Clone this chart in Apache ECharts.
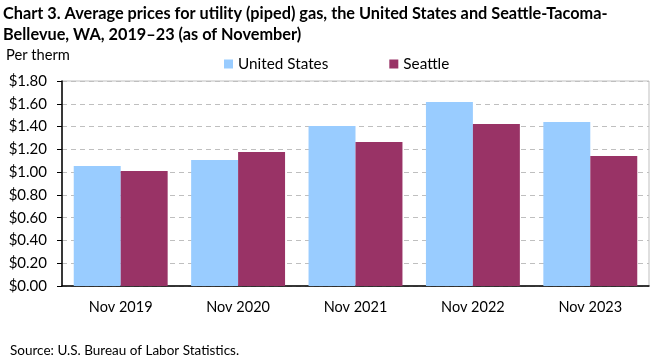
<!DOCTYPE html>
<html>
<head>
<meta charset="utf-8">
<script src="https://cdn.jsdelivr.net/npm/echarts@6/dist/echarts.min.js"></script>
<style>html,body{margin:0;padding:0;background:#fff}#c{width:661px;height:361px}</style>
</head>
<body>
<div id="c"></div>
<script>
const categories = ['Nov 2019', 'Nov 2020', 'Nov 2021', 'Nov 2022', 'Nov 2023'];
const usValues = [1.054, 1.106, 1.405, 1.615, 1.440];
const seattleValues = [1.010, 1.177, 1.264, 1.422, 1.141];
const seriesNames = ['United States', 'Seattle'];

const FONT = 'Lato';
const chart = echarts.init(document.getElementById('c'), null, {renderer: 'canvas'});
chart.setOption({
  animation: false,
  backgroundColor: '#fff',
  title: [{
    text: 'Chart 3. Average prices for utility (piped) gas, the United States and Seattle-Tacoma-\nBellevue, WA, 2019\u201323 (as of November)',
    left: 3, top: 3, padding: 0,
    textStyle: {fontFamily: FONT, fontSize: 16.3, fontWeight: 'bold', color: '#000', lineHeight: 21}
  }, {
    text: 'Per therm', left: 6, top: 46, padding: 0,
    textStyle: {fontFamily: FONT, fontSize: 14.7, fontWeight: 'normal', color: '#000', lineHeight: 18}
  }, {
    text: 'Source: U.S. Bureau of Labor Statistics.', left: 10, top: 343, padding: 0,
    textStyle: {fontFamily: FONT, fontSize: 13.5, fontWeight: 'normal', color: '#000', lineHeight: 16}
  }],
  legend: {
    data: seriesNames, left: 224, top: 55, padding: 0, itemWidth: 9, itemHeight: 9, itemGap: 61,
    icon: 'rect',
    textStyle: {fontFamily: FONT, fontSize: 15.3, color: '#000', lineHeight: 18}
  },
  grid: {left: 62, right: 12, top: 81, bottom: 75, show: true, borderColor: '#bfbfbf', borderWidth: 1, containLabel: false},
  xAxis: {
    type: 'category', data: categories,
    axisLine: {lineStyle: {color: '#000', width: 1.5}},
    axisTick: {show: false},
    axisLabel: {fontFamily: FONT, fontSize: 14.5, color: '#000', margin: 14}
  },
  yAxis: {
    type: 'value', min: 0, max: 1.8, interval: 0.2,
    axisLine: {show: true, lineStyle: {color: '#000', width: 1.5}},
    axisTick: {show: true, length: 5, lineStyle: {color: '#000'}},
    splitLine: {lineStyle: {color: '#bfbfbf', type: [5, 4]}},
    axisLabel: {fontFamily: FONT, fontSize: 15, color: '#000', margin: 15,
      formatter: v => '$' + v.toFixed(2)}
  },
  series: [{
    name: seriesNames[0], type: 'bar', data: usValues, barGap: '0%', barCategoryGap: '20%',
    itemStyle: {color: '#99ccff'}
  }, {
    name: seriesNames[1], type: 'bar', data: seattleValues, barGap: '0%', barCategoryGap: '20%',
    itemStyle: {color: '#993366'}
  }]
});
</script>
</body>
</html>
